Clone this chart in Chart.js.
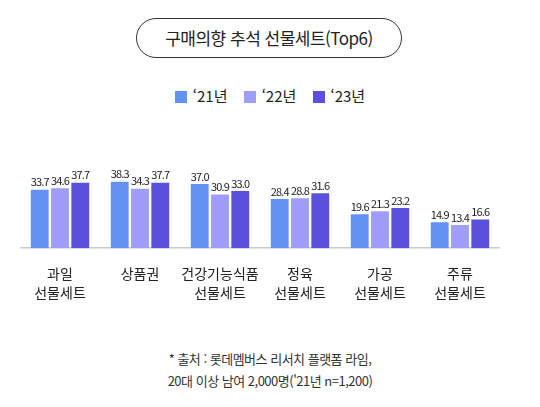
<!DOCTYPE html>
<html lang="ko">
<head>
<meta charset="UTF-8" />
<script src="https://cdn.jsdelivr.net/npm/chart.js"></script>
<style>
  body { margin: 0; width: 540px; height: 407px; background: #fff; font-family: "Noto Sans CJK KR", "Noto Sans", sans-serif; color: #222; position: relative; overflow: hidden; }
  .pill { position: absolute; left: 136px; top: 18px; width: 266px; height: 40px; border: 1.5px solid #333; border-radius: 21px; box-sizing: border-box; text-align: center; line-height: 37px; font-size: 17px; letter-spacing: -0.5px; }
  .legend { position: absolute; top: 85px; left: 0; width: 540px; text-align: center; font-size: 15px; }
  .legend span { display: inline-block; margin: 0 6px; }
  .legend i { display: inline-block; width: 12px; height: 12px; margin-right: 6px; vertical-align: -1px; }
  .note { position: absolute; top: 348px; left: 0; width: 540px; text-align: center; font-size: 13px; line-height: 22px; letter-spacing: -0.5px; color: #333; }
  #wrap { position: absolute; left: 20px; top: 118px; width: 480px; height: 192px; }
</style>
</head>
<body>
  <div class="pill">구매의향 추석 선물세트(Top6)</div>
  <div class="legend">
    <span><i style="background:#6393f2"></i>‘21년</span>
    <span><i style="background:#a09cfa"></i>‘22년</span>
    <span><i style="background:#5a50dc"></i>‘23년</span>
  </div>
  <div id="wrap"><canvas id="c"></canvas></div>
  <div class="note">* 출처 : 롯데멤버스 리서치 플랫폼 라임,<br>20대 이상 남여 2,000명('21년 n=1,200)</div>
<script>
  const categories = [['과일', '선물세트'], ['상품권'], ['건강기능식품', '선물세트'], ['정육', '선물세트'], ['가공', '선물세트'], ['주류', '선물세트']];
  const y21 = [33.7, 38.3, 37.0, 28.4, 19.6, 14.9];
  const y22 = [34.6, 34.3, 30.9, 28.8, 21.3, 13.4];
  const y23 = [37.7, 37.7, 33.0, 31.6, 23.2, 16.6];

  const valueLabels = {
    id: 'valueLabels',
    afterDatasetsDraw(chart) {
      const ctx = chart.ctx;
      ctx.save();
      ctx.font = '11px "Noto Sans CJK KR", sans-serif';
      ctx.letterSpacing = '-0.8px';
      ctx.fillStyle = '#222';
      ctx.textAlign = 'center';
      ctx.textBaseline = 'bottom';
      chart.data.datasets.forEach((ds, i) => {
        chart.getDatasetMeta(i).data.forEach((bar, j) => {
          ctx.fillText(ds.data[j].toFixed(1), bar.x, bar.y - 2);
        });
      });
      ctx.restore();
    }
  };

  new Chart(document.getElementById('c'), {
    type: 'bar',
    data: {
      labels: categories,
      datasets: [
        { label: "'21년", data: y21, backgroundColor: '#6393f2' },
        { label: "'22년", data: y22, backgroundColor: '#a09cfa' },
        { label: "'23년", data: y23, backgroundColor: '#5a50dc' }
      ]
    },
    options: {
      responsive: true,
      maintainAspectRatio: false,
      animation: false,
      categoryPercentage: 0.76,
      barPercentage: 0.88,
      layout: { padding: 0 },
      plugins: { legend: { display: false }, tooltip: { enabled: false } },
      scales: {
        y: { display: false, min: 0, max: 75 },
        x: {
          grid: { display: false },
          border: { color: '#ccc', width: 1.5 },
          ticks: { color: '#222', maxRotation: 0, minRotation: 0, autoSkip: false, font: { size: 14, family: '"Noto Sans CJK KR", sans-serif', lineHeight: 1.35 }, padding: 8 }
        }
      }
    },
    plugins: [valueLabels]
  });
</script>
</body>
</html>
